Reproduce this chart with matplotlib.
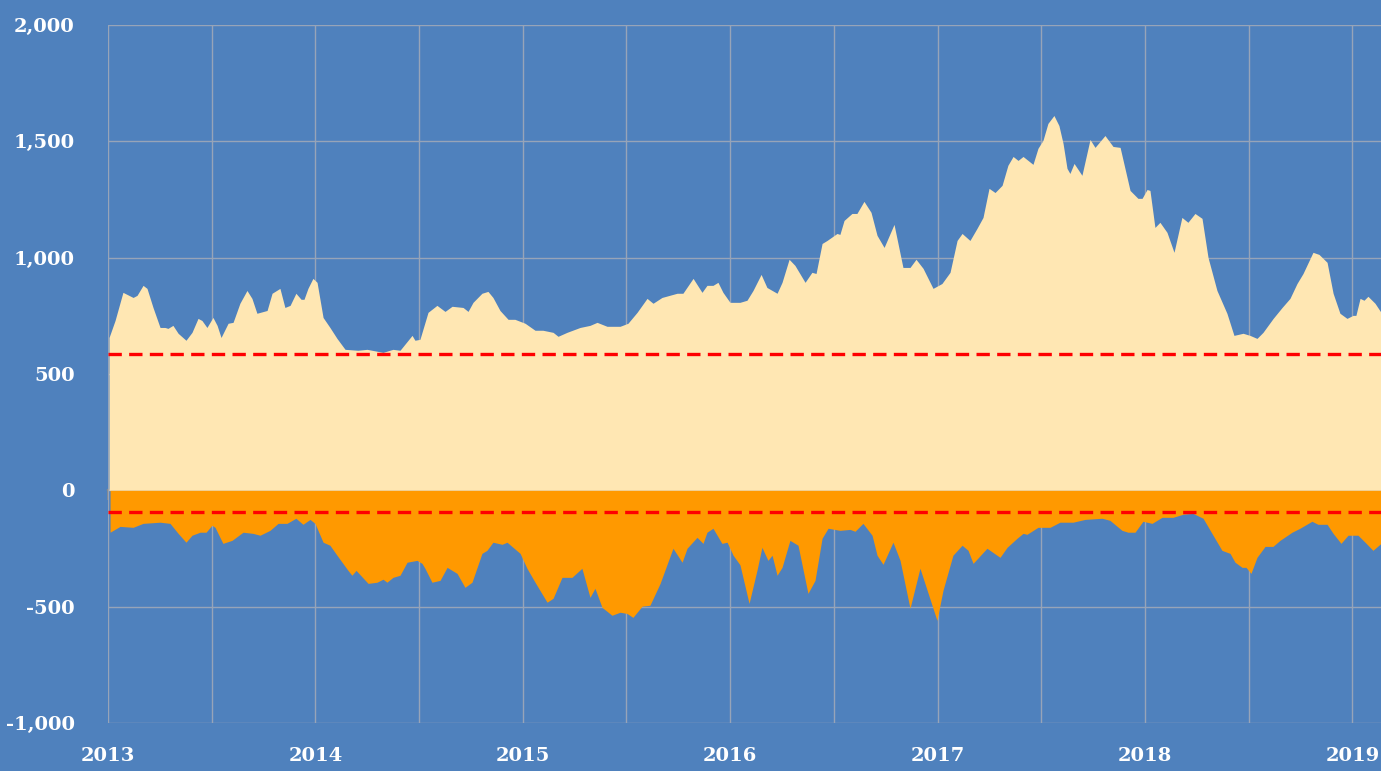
import numpy as np
import matplotlib
matplotlib.use("Agg")
from matplotlib import pyplot as plt
from matplotlib.ticker import FuncFormatter, MultipleLocator

# years since 2013 and values
upper_t = 2013 + np.array([
    0.005, 0.034, 0.072, 0.121, 0.140, 0.169, 0.188, 0.217, 0.251, 0.275,
    0.289, 0.313, 0.338, 0.376, 0.405, 0.434, 0.453, 0.477, 0.506, 0.526,
    0.545, 0.579, 0.603, 0.636, 0.670, 0.694, 0.718, 0.767, 0.791, 0.829,
    0.853, 0.878, 0.906, 0.931, 0.945, 0.964, 0.988, 1.008, 1.037, 1.070,
    1.104, 1.143, 1.205, 1.249, 1.326, 1.374, 1.408, 1.466, 1.480, 1.504,
    1.543, 1.586, 1.625, 1.659, 1.712, 1.736, 1.760, 1.803, 1.832, 1.856,
    1.890, 1.929, 1.962, 2.011, 2.059, 2.097, 2.146, 2.170, 2.213, 2.276,
    2.324, 2.358, 2.406, 2.469, 2.507, 2.551, 2.599, 2.628, 2.671, 2.744,
    2.772, 2.821, 2.864, 2.888, 2.917, 2.941, 2.965, 2.999, 3.047, 3.081,
    3.110, 3.149, 3.177, 3.226, 3.250, 3.284, 3.312, 3.361, 3.394, 3.414,
    3.443, 3.467, 3.515, 3.529, 3.549, 3.587, 3.611, 3.645, 3.679, 3.708,
    3.742, 3.790, 3.833, 3.867, 3.896, 3.930, 3.978, 4.021, 4.060, 4.094,
    4.118, 4.156, 4.190, 4.219, 4.248, 4.277, 4.311, 4.339, 4.364, 4.388,
    4.412, 4.460, 4.484, 4.508, 4.532, 4.561, 4.585, 4.605, 4.624, 4.638,
    4.658, 4.696, 4.735, 4.759, 4.807, 4.846, 4.880, 4.928, 4.966, 4.986,
    5.010, 5.024, 5.048, 5.072, 5.106, 5.140, 5.178, 5.207, 5.241, 5.275,
    5.304, 5.347, 5.395, 5.429, 5.473, 5.506, 5.540, 5.569, 5.618, 5.661,
    5.699, 5.733, 5.762, 5.810, 5.839, 5.878, 5.907, 5.940, 5.974, 6.003,
    6.017, 6.037, 6.056, 6.075, 6.109, 6.138])
upper_v = [
    657, 730, 851, 829, 838, 881, 868, 786, 700, 700,
    696, 709, 675, 645, 679, 739, 730, 700, 743, 709,
    657, 718, 722, 804, 859, 825, 761, 773, 847, 868,
    786, 795, 847, 821, 821, 868, 911, 894, 743, 700,
    653, 606, 602, 606, 593, 606, 602, 666, 645, 649,
    765, 795, 769, 791, 786, 769, 808, 847, 855, 829,
    773, 735, 735, 718, 688, 688, 679, 662, 679, 700,
    709, 722, 705, 705, 718, 765, 825, 804, 829, 847,
    847, 911, 851, 881, 881, 894, 851, 808, 808, 817,
    859, 928, 872, 847, 894, 993, 967, 894, 937, 932,
    1061, 1074, 1104, 1100, 1160, 1190, 1190, 1242, 1195, 1096,
    1044, 1143, 958, 958, 993, 954, 868, 889, 937, 1074,
    1104, 1074, 1126, 1173, 1298, 1280, 1311, 1397, 1435, 1418,
    1435, 1401, 1470, 1504, 1577, 1611, 1568, 1491, 1384, 1362,
    1405, 1354, 1508, 1474, 1525, 1478, 1474, 1289, 1255, 1255,
    1293, 1289, 1130, 1152, 1109, 1023, 1173, 1152, 1190, 1169,
    1001, 859, 761, 666, 675, 666, 653, 679, 739, 786,
    825, 889, 932, 1023, 1014, 980, 847, 761, 739, 752,
    752, 825, 817, 834, 804, 765]

lower_t = 2013 + np.array([
    0.010, 0.058, 0.121, 0.169, 0.251, 0.299, 0.338, 0.376, 0.405, 0.444,
    0.473, 0.501, 0.516, 0.554, 0.598, 0.651, 0.699, 0.733, 0.781, 0.820,
    0.863, 0.906, 0.940, 0.974, 0.998, 1.037, 1.070, 1.104, 1.157, 1.176,
    1.196, 1.254, 1.297, 1.326, 1.345, 1.374, 1.408, 1.442, 1.490, 1.514,
    1.528, 1.562, 1.601, 1.635, 1.683, 1.721, 1.755, 1.803, 1.827, 1.856,
    1.900, 1.924, 1.987, 2.020, 2.059, 2.117, 2.146, 2.189, 2.237, 2.285,
    2.324, 2.348, 2.382, 2.430, 2.469, 2.502, 2.531, 2.575, 2.613, 2.662,
    2.724, 2.768, 2.792, 2.840, 2.869, 2.888, 2.917, 2.960, 2.985, 3.014,
    3.047, 3.091, 3.129, 3.153, 3.182, 3.202, 3.226, 3.250, 3.288, 3.327,
    3.375, 3.409, 3.443, 3.472, 3.529, 3.578, 3.602, 3.640, 3.684, 3.708,
    3.737, 3.785, 3.819, 3.867, 3.915, 3.997, 4.026, 4.074, 4.118, 4.147,
    4.171, 4.238, 4.301, 4.335, 4.383, 4.412, 4.431, 4.484, 4.542, 4.590,
    4.653, 4.711, 4.793, 4.831, 4.889, 4.918, 4.952, 4.990, 5.034, 5.082,
    5.135, 5.183, 5.231, 5.280, 5.328, 5.371, 5.410, 5.434, 5.468, 5.487,
    5.511, 5.540, 5.579, 5.617, 5.651, 5.709, 5.747, 5.805, 5.834, 5.878,
    5.907, 5.945, 5.979, 6.027, 6.061, 6.099, 6.138])
lower_v = [
    -180, -155, -159, -142, -137, -142, -185, -223, -193, -180,
    -180, -150, -159, -228, -215, -180, -185, -193, -172, -142,
    -142, -120, -146, -125, -142, -223, -236, -279, -344, -365,
    -344, -400, -395, -382, -395, -374, -365, -309, -301, -314,
    -335, -395, -387, -331, -357, -417, -395, -271, -258, -223,
    -232, -223, -271, -335, -395, -481, -464, -374, -374, -335,
    -460, -421, -503, -537, -524, -529, -546, -498, -494, -400,
    -249, -309, -249, -202, -228, -180, -163, -228, -223, -279,
    -320, -486, -344, -245, -301, -279, -365, -331, -215, -236,
    -443, -387, -206, -163, -172, -168, -176, -142, -193, -279,
    -318, -223, -301, -507, -335, -559, -430, -279, -236, -258,
    -314, -249, -288, -245, -206, -185, -189, -159, -159, -137,
    -137, -125, -120, -129, -172, -180, -180, -133, -142, -116,
    -116, -103, -99, -120, -193, -258, -271, -309, -331, -331,
    -357, -288, -241, -241, -215, -180, -163, -133, -146, -146,
    -185, -228, -193, -193, -223, -258, -228]

upper_ref = 584
lower_ref = -95
years = list(range(2013, 2020))

bg = "#4F81BD"
grid_c = "#97a4b8"

fig = plt.figure(figsize=(13.81, 7.71), dpi=100, facecolor=bg)
ax = fig.add_axes([108 / 1381, 48 / 771, 1 - 108 / 1381, 698 / 771])
ax.set_facecolor(bg)

ax.fill_between(upper_t, 0, upper_v, color="#FFE7B3", lw=0, zorder=2)
ax.fill_between(lower_t, lower_v, 0, color="#FF9900", lw=0, zorder=2)
ax.axhline(upper_ref, color="#FF0000", lw=2.4, ls=(0, (4, 2.2)), zorder=4)
ax.axhline(lower_ref, color="#FF0000", lw=2.4, ls=(0, (4, 2.2)), zorder=4)

ymin, ymax = -1000, 2000
ax.set_ylim(ymin, ymax)
ax.set_xlim(2013, upper_t[-1])
ax.yaxis.set_major_locator(MultipleLocator(500))
ax.set_xticks(years)
ax.xaxis.set_minor_locator(MultipleLocator(0.5))

font = dict(family="DejaVu Serif", weight="bold", size=14, color="white")
ax.set_yticklabels([f"{v:,.0f}" for v in ax.get_yticks()], **font)
ax.set_xticklabels([str(y) for y in years], **font)
ax.tick_params(axis="y", length=0, pad=24)
ax.tick_params(axis="x", which="both", length=0, pad=17)

ax.grid(True, which="both", color=grid_c, lw=1)
ax.set_axisbelow(True)
for s in ax.spines.values():
    s.set_visible(False)

# zero line with year tick marks
zero_axis = ax.secondary_xaxis((0 - ymin) / (ymax - ymin))
zero_axis.set_xticks(years)
zero_axis.tick_params(length=7, width=1.2, color="#8c8c8c", labelbottom=False)
zero_axis.spines["bottom"].set_color("#8c8c8c")
zero_axis.spines["bottom"].set_linewidth(1.6)
zero_axis.spines["bottom"].set_zorder(5)

fig.savefig("out.png", dpi=100, facecolor=bg)
